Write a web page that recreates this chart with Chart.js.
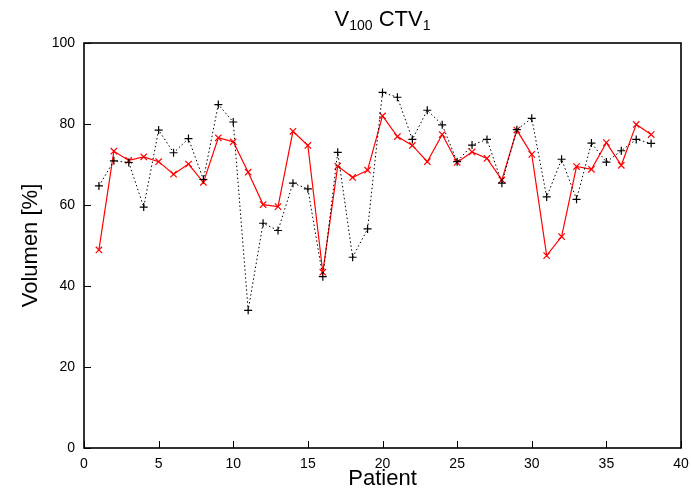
<!DOCTYPE html>
<html>
<head>
<meta charset="utf-8">
<script src="https://cdn.jsdelivr.net/npm/chart.js@4"></script>
<style>
  html, body { margin: 0; padding: 0; background: #fff; }
  #wrap { width: 691px; height: 492px; }
</style>
</head>
<body>
<div id="wrap"><canvas id="chart"></canvas></div>
<script>
// data
const patients = [1, 2, 3, 4, 5, 6, 7, 8, 9, 10, 11, 12, 13, 14, 15, 16, 17, 18, 19,
  20, 21, 22, 23, 24, 25, 26, 27, 28, 29, 30, 31, 32, 33, 34, 35, 36, 37, 38];
const plusValues = [64.7, 70.9, 70.5, 59.5, 78.5, 72.9, 76.4, 66.3, 84.8, 80.5,
  34.0, 55.5, 53.7, 65.4, 64.0, 42.3, 73.0, 47.1, 54.1, 87.8,
  86.6, 76.2, 83.4, 79.8, 70.7, 74.8, 76.2, 65.4, 78.6, 81.4,
  62.0, 71.3, 61.4, 75.3, 70.6, 73.4, 76.2, 75.2];
const crossValues = [48.9, 73.3, 71.0, 71.9, 70.7, 67.6, 70.1, 65.6, 76.6, 75.6,
  68.1, 60.1, 59.6, 78.2, 74.7, 43.4, 69.6, 66.8, 68.6, 82.0,
  76.9, 74.7, 70.7, 77.4, 70.5, 73.1, 71.5, 66.2, 78.5, 72.5,
  47.5, 52.2, 69.5, 68.8, 75.4, 69.8, 79.9, 77.4];
const xTicks = [0, 5, 10, 15, 20, 25, 30, 35, 40];
const yTicks = [0, 20, 40, 60, 80, 100];

const FONT = "'Liberation Sans', Arial, sans-serif";

// gnuplot style frame with ticks pointing inwards + title with subscripts
const framePlugin = {
  id: 'frame',
  afterDraw(chart) {
    const c = chart.ctx;
    const a = chart.chartArea;
    const xs = chart.scales.x, ys = chart.scales.y;
    c.save();
    c.strokeStyle = '#000';
    c.lineWidth = 1;
    c.beginPath();
    yTicks.forEach(v => {
      const py = Math.round(ys.getPixelForValue(v)) + 0.5;
      c.moveTo(a.left, py); c.lineTo(a.left + 7, py);
    });
    xTicks.forEach(v => {
      const px = Math.round(xs.getPixelForValue(v)) + 0.5;
      c.moveTo(px, a.bottom); c.lineTo(px, a.bottom - 7);
    });
    c.stroke();
    c.lineWidth = 1.6;
    c.strokeRect(a.left, a.top, a.right - a.left, a.bottom - a.top);

    // title: V100 CTV1 with subscripts
    const parts = [['V', 22, 0], ['100', 14, 4], [' CTV', 22, 0], ['1', 14, 4]];
    let total = 0;
    parts.forEach(p => { c.font = p[1] + 'px ' + FONT; total += c.measureText(p[0]).width; });
    let x = (a.left + a.right) / 2 - total / 2;
    c.fillStyle = '#000';
    c.textBaseline = 'alphabetic';
    c.textAlign = 'left';
    parts.forEach(p => {
      c.font = p[1] + 'px ' + FONT;
      c.fillText(p[0], x, 26 + p[2]);
      x += c.measureText(p[0]).width;
    });
    c.restore();
  }
};

const ctx = document.getElementById('chart').getContext('2d');

new Chart(ctx, {
  type: 'line',
  data: {
    datasets: [
      {
        label: 'plus',
        data: patients.map((p, i) => ({ x: p, y: plusValues[i] })),
        borderColor: '#000',
        borderWidth: 1,
        borderDash: [1.5, 2.5],
        pointStyle: 'cross',
        pointRadius: 4,
        pointBorderColor: '#000',
        pointBorderWidth: 1.2,
        tension: 0,
        fill: false
      },
      {
        label: 'cross',
        data: patients.map((p, i) => ({ x: p, y: crossValues[i] })),
        borderColor: '#ff0000',
        borderWidth: 1.2,
        pointStyle: 'crossRot',
        pointRadius: 4.5,
        pointBorderColor: '#ff0000',
        pointBorderWidth: 1.2,
        tension: 0,
        fill: false
      }
    ]
  },
  options: {
    responsive: true,
    maintainAspectRatio: false,
    animation: false,
    layout: { padding: { left: 0, right: 0, top: 43, bottom: 0 } },
    plugins: {
      legend: { display: false },
      tooltip: { enabled: false }
    },
    scales: {
      x: {
        type: 'linear',
        min: 0,
        max: 40,
        afterBuildTicks: s => { s.ticks = xTicks.map(v => ({ value: v })); },
        afterFit: s => { s.height = 44; s.paddingLeft = 0; s.paddingRight = 10; },
        grid: { display: false, drawTicks: false },
        border: { display: false },
        ticks: { color: '#000', font: { family: FONT, size: 14 }, padding: 8, maxRotation: 0 },
        title: { display: true, text: 'Patient', color: '#000', font: { family: FONT, size: 22 }, padding: { top: -4, bottom: 0 } }
      },
      y: {
        min: 0,
        max: 100,
        afterBuildTicks: s => { s.ticks = yTicks.map(v => ({ value: v })); },
        afterFit: s => { s.width = 84; },
        grid: { display: false, drawTicks: false },
        border: { display: false },
        ticks: { color: '#000', font: { family: FONT, size: 14 }, padding: 9 },
        title: { display: true, text: 'Volumen [%]', color: '#000', font: { family: FONT, size: 22 }, padding: { top: 18, bottom: 0 } }
      }
    }
  },
  plugins: [framePlugin]
});
</script>
</body>
</html>
